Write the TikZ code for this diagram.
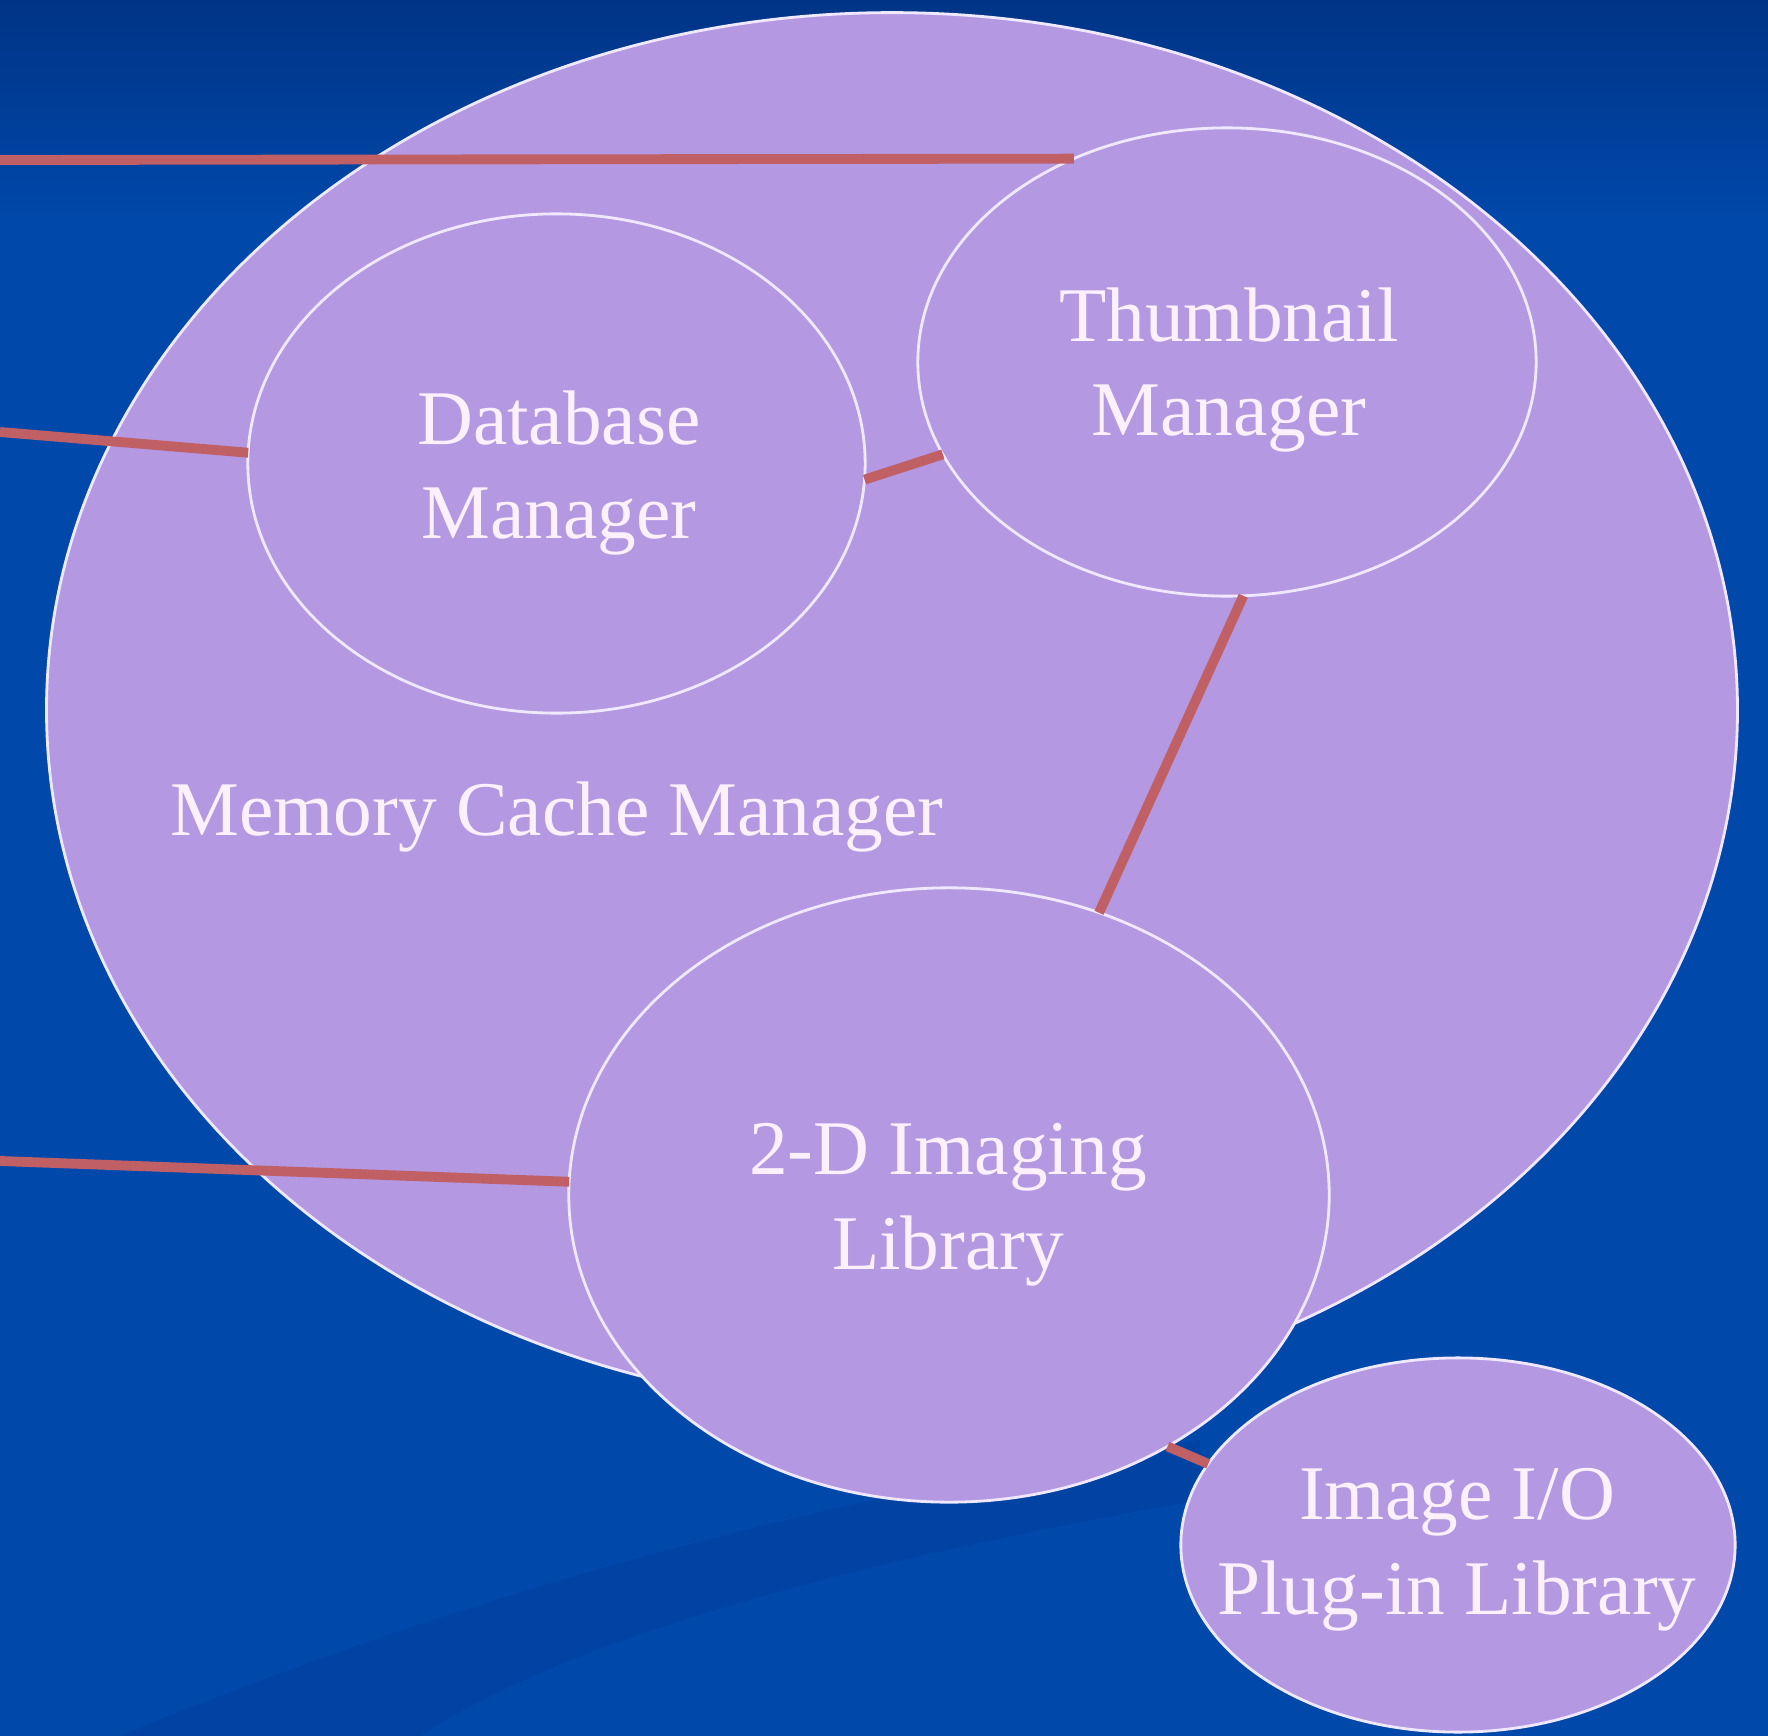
\documentclass[tikz,border=0pt]{standalone}
\usepackage{fontspec}
\setmainfont{Liberation Serif}
\usetikzlibrary{shapes.geometric}
\definecolor{bgtop}{RGB}{0,52,134}
\definecolor{bgmain}{RGB}{0,72,170}
\definecolor{bgdark}{RGB}{0,58,148}
\definecolor{lav}{RGB}{180,152,226}
\definecolor{rim}{RGB}{240,232,255}
\definecolor{linkc}{RGB}{192,96,100}
\definecolor{txt}{RGB}{252,240,252}
\begin{document}
\begin{tikzpicture}[x=0.01cm,y=-0.01cm,
  blob/.style={ellipse, draw=rim, line width=0.8pt, fill=lav, inner sep=0pt, outer sep=0pt},
  lbl/.style={text=txt, align=center, inner sep=0pt, font=\fontsize{22}{27}\selectfont},
  conn/.style={draw=linkc, line width=2.8pt}]
\useasboundingbox (0,0) rectangle (1768,1736);
% background
\fill[bgmain] (0,0) rectangle (1768,1736);
\shade[top color=bgtop, bottom color=bgmain] (0,0) rectangle (1768,220);
\fill[bgdark, opacity=0.3] (120,1736) .. controls (450,1600) and (800,1500) .. (1200,1440)
   -- (1200,1500) .. controls (800,1570) and (550,1650) .. (420,1736) -- cycle;
% shapes
\node[blob, minimum width=16.9cm, minimum height=13.94cm] (mcm) at (892,710) {};
\node[blob, minimum width=6.17cm, minimum height=4.99cm] (db) at (556.5,463.5) {};
\node[blob, minimum width=6.18cm, minimum height=4.68cm] (thumb) at (1227,362) {};
\node[blob, minimum width=7.6cm, minimum height=6.14cm] (img2d) at (949,1195) {};
\node[blob, minimum width=5.54cm, minimum height=3.74cm] (imgio) at (1458,1545) {};
% free ends at the left edge
\coordinate (e1) at (0,160);
\coordinate (e2) at (0,432);
\coordinate (e3) at (0,1161);
% connectors
\draw[conn] (e1) -- (thumb.127.2);
\draw[conn] (e2) -- (db.178.2);
\draw[conn] (db.-3.2) -- (thumb.198.4);
\draw[conn] (thumb.274.2) -- (img2d.62.2);
\draw[conn] (e3) -- (img2d.178);
\draw[conn] (img2d.-49.4) -- (imgio.162.7);
% labels
\node[lbl] (tdb) at (559,473) {Database\\Manager};
\node[lbl] (tthumb) at (1229,370) {Thumbnail\\Manager};
\node[lbl] (tmcm) at (557,817) {Memory Cache Manager};
\node[lbl] (t2d) at (948,1205) {2-D Imaging\\Library};
\node[lbl] (tio) at (1457,1550) {Image I/O\\Plug-in Library};
\end{tikzpicture}
\end{document}
